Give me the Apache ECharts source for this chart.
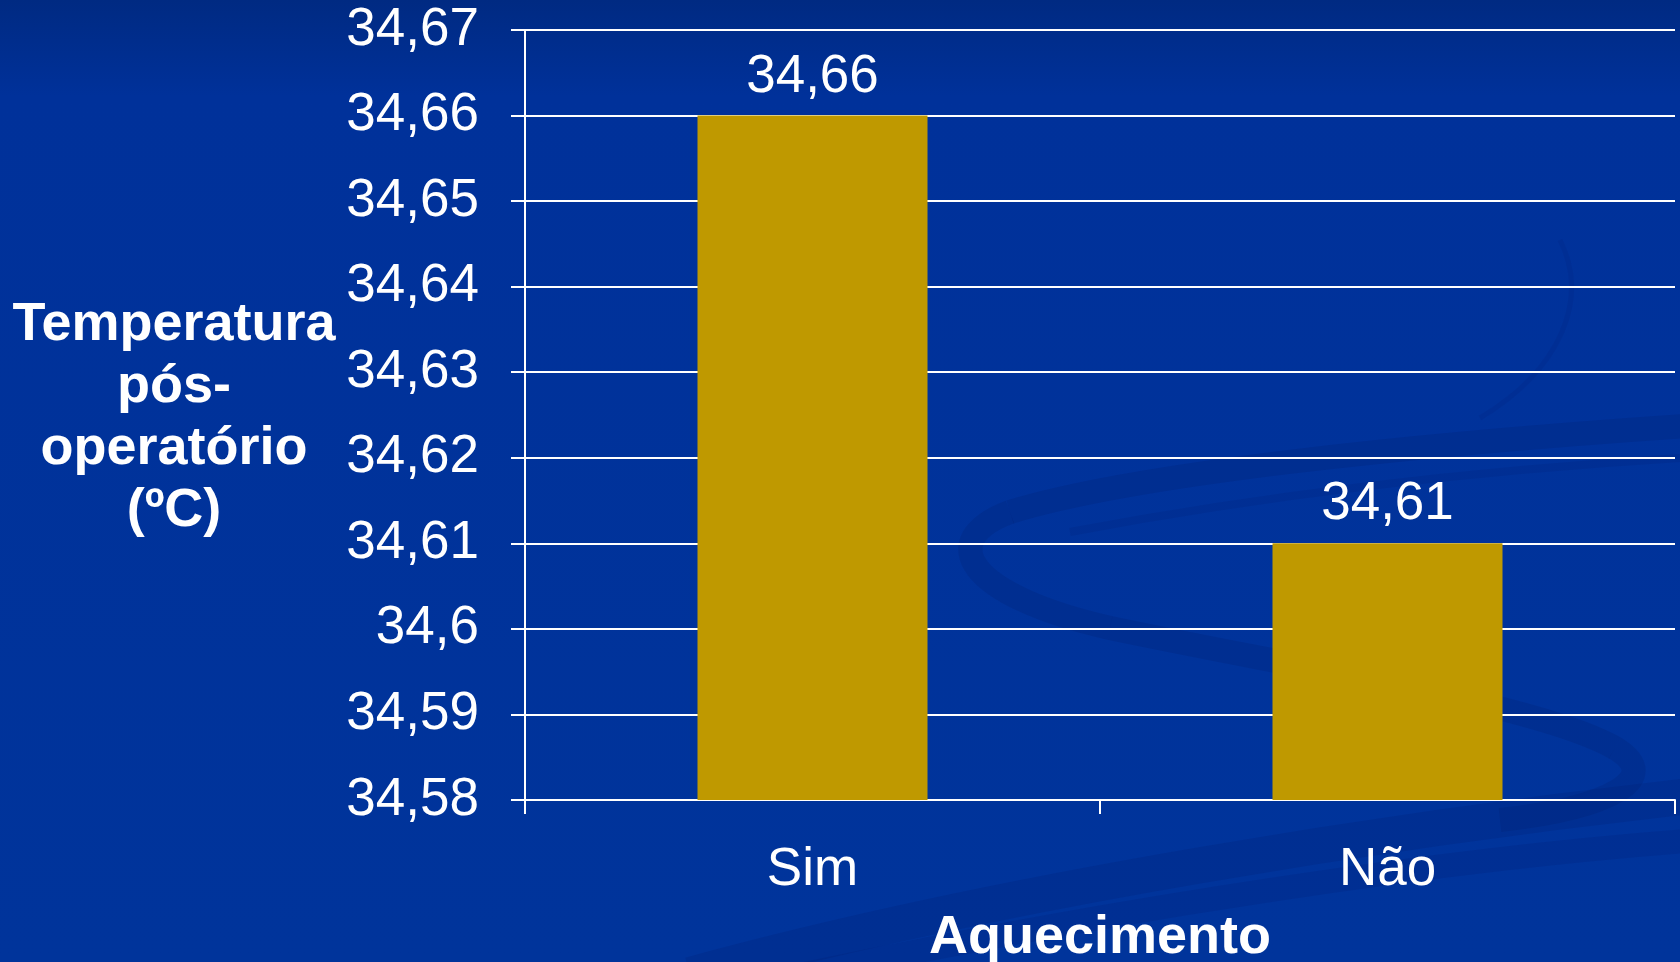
<!DOCTYPE html>
<html>
<head>
<meta charset="utf-8">
<script src="https://cdn.jsdelivr.net/npm/echarts@6/dist/echarts.min.js"></script>
<style>
  html, body { margin: 0; padding: 0; }
  #chart { width: 1680px; height: 962px; }
</style>
</head>
<body>
<div id="chart"></div>
<script>
// Post-operative temperature by warming group
const categories = ['Sim', 'Não'];
const temperatures = [34.66, 34.61];
const yTicks = [34.58, 34.59, 34.6, 34.61, 34.62, 34.63, 34.64, 34.65, 34.66, 34.67];
const yAxisTitle = 'Temperatura\npós-\noperatório\n(ºC)';
const xAxisTitle = 'Aquecimento';

const FONT = '"Liberation Sans", Arial, sans-serif';
const comma = v => String(+(+v).toFixed(2)).replace('.', ',');

// decorative swooshes of the slide background, one cubic segment each
const swoosh = (p, w, a) => ({
  type: 'bezierCurve',
  z: -10,
  silent: true,
  shape: { x1: p[0], y1: p[1], cpx1: p[2], cpy1: p[3], cpx2: p[4], cpy2: p[5], x2: p[6], y2: p[7] },
  style: { fill: null, stroke: 'rgba(0, 30, 110, ' + a + ')', lineWidth: w, lineCap: 'butt' }
});

const chart = echarts.init(document.getElementById('chart'));
chart.setOption({
  backgroundColor: {
    type: 'linear', x: 0, y: 0, x2: 0, y2: 1,
    colorStops: [
      { offset: 0, color: '#002a82' },
      { offset: 0.1, color: '#00319a' },
      { offset: 1, color: '#00349b' }
    ]
  },
  animation: false,
  grid: { left: 525, right: 5, top: 30, bottom: 162, outerBoundsMode: 'none', containLabel: false },
  graphic: [
    swoosh([1700, 425, 1400, 445, 1130, 475, 1010, 512], 24, 0.22),
    swoosh([1010, 512, 935, 540, 965, 595, 1110, 628], 24, 0.22),
    swoosh([1110, 628, 1310, 670, 1540, 705, 1615, 748], 24, 0.22),
    swoosh([1615, 748, 1665, 778, 1610, 808, 1500, 820], 24, 0.22),
    swoosh([1680, 458, 1450, 472, 1250, 498, 1070, 532], 8, 0.16),
    swoosh([1560, 240, 1590, 300, 1560, 370, 1480, 418], 5, 0.14),
    swoosh([690, 975, 1000, 890, 1400, 828, 1700, 795], 36, 0.2),
    swoosh([800, 975, 1120, 908, 1450, 858, 1700, 840], 24, 0.18),
    {
      type: 'text',
      x: 174, y: 294,
      style: {
        text: yAxisTitle,
        fill: '#ffffff',
        font: 'bold 54px ' + FONT,
        lineHeight: 62,
        align: 'center'
      },
      z: 10
    }
  ],
  xAxis: {
    type: 'category',
    data: categories,
    name: xAxisTitle,
    nameLocation: 'middle',
    nameGap: 111,
    nameTextStyle: { color: '#ffffff', fontFamily: FONT, fontWeight: 'bold', fontSize: 54 },
    axisLine: { lineStyle: { color: '#ffffff', width: 2 } },
    axisTick: { show: true, length: 14, lineStyle: { color: '#ffffff', width: 2 } },
    axisLabel: { color: '#ffffff', fontFamily: FONT, fontSize: 53, margin: 44 }
  },
  yAxis: {
    type: 'value',
    min: yTicks[0],
    max: yTicks[yTicks.length - 1],
    interval: 0.01,
    axisLine: { show: true, lineStyle: { color: '#ffffff', width: 2 } },
    axisTick: { show: true, length: 14, lineStyle: { color: '#ffffff', width: 2 } },
    axisLabel: { color: '#ffffff', fontFamily: FONT, fontSize: 53, margin: 46, formatter: comma },
    splitLine: { show: true, lineStyle: { color: '#ffffff', width: 2 } }
  },
  series: [{
    type: 'bar',
    data: temperatures,
    barWidth: '40%',
    itemStyle: { color: '#bf9900' },
    label: {
      show: true,
      position: 'top',
      distance: 12,
      color: '#ffffff',
      fontFamily: FONT,
      fontSize: 53,
      formatter: p => comma(p.value)
    }
  }]
});
</script>
</body>
</html>
